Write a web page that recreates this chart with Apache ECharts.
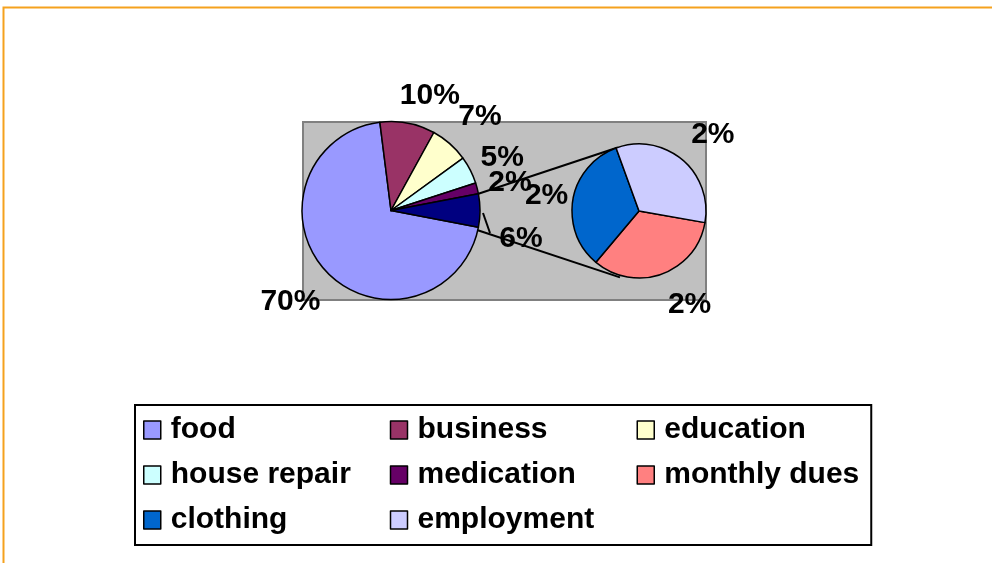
<!DOCTYPE html>
<html>
<head>
<meta charset="utf-8">
<script src="https://cdn.jsdelivr.net/npm/echarts@6/dist/echarts.min.js"></script>
<style>
  html, body { margin: 0; padding: 0; background: #fff; }
  #chart { width: 992px; height: 563px; }
</style>
</head>
<body>
<div id="chart"></div>
<script>
// main pie
const mainNames = ["food", "business", "education", "house repair", "medication"];
const mainValues = [70, 10, 7, 5, 2];
// split-off pie (the "other" slice of the main pie)
const subNames = ["monthly dues", "clothing", "employment"];
const subValues = [2, 2, 2];
const legendOrder = ["food", "business", "education", "house repair", "medication", "monthly dues", "clothing", "employment"];

const colors = {
  "food": "#9999FF",
  "business": "#993366",
  "education": "#FFFFCC",
  "house repair": "#CCFFFF",
  "medication": "#660066",
  "other": "#000080",
  "monthly dues": "#FF8080",
  "clothing": "#0066CC",
  "employment": "#CCCCFF",
};

const FONT = "'Liberation Sans', Arial, sans-serif";
const sum = (a) => a.reduce((s, v) => s + v, 0);
const otherValue = sum(subValues);
const allMain = mainValues.concat([otherValue]);
const grandTotal = sum(allMain);

// layout
const mainC = [391, 210.5], mainR = 89;
const subC = [639, 211], subR = 67;
// "other" slice centred on 3 o'clock, like excel's pie of pie
const mainStart = (grandTotal - otherValue / 2) / grandTotal * 360;
const subStart = 350;
const mainLabelR = 127, subLabelR = 104;
// small hand tweaks so the labels sit where excel put them
const labelNudge = {
  "food": [-8, 4], "business": [15, 10], "education": [5, 1], "house repair": [-2, 5],
  "medication": [-4, 4], "other": [3, 28],
  "monthly dues": [15, -4], "clothing": [10, 3], "employment": [7, 3],
};

function midAngle(values, start, i) {
  let before = 0;
  for (let k = 0; k < i; k++) before += values[k];
  return (start - (before + values[i] / 2) / sum(values) * 360) * Math.PI / 180;
}

function pt(c, r, deg) {
  const a = deg * Math.PI / 180;
  return [c[0] + r * Math.cos(a), c[1] - r * Math.sin(a)];
}

const mainData = mainNames.map((n, i) => ({ name: n, value: mainValues[i], itemStyle: { color: colors[n] } }));
mainData.push({ name: "other", value: otherValue, itemStyle: { color: colors.other } });
const subData = subNames.map((n, i) => ({ name: n, value: subValues[i], itemStyle: { color: colors[n] } }));

const labelStyle = {
  show: true,
  position: "outside",
  color: "#000",
  fontSize: 30,
  fontWeight: "bold",
  fontFamily: FONT,
  formatter: (p) => Math.round(p.value / grandTotal * 100) + "%",
};

function makeLayout(values, names, c, r, start) {
  return function (p) {
    const a = midAngle(values, start, p.dataIndex);
    const nudge = labelNudge[names[p.dataIndex]] || [0, 0];
    return {
      x: c[0] + r * Math.cos(a) + nudge[0],
      y: c[1] - r * Math.sin(a) + nudge[1],
      align: "center",
      verticalAlign: "middle",
    };
  };
}

// series lines from the "other" slice to the split-off pie
const halfOther = otherValue / grandTotal * 180;
const lineA = [pt(mainC, mainR, halfOther), pt(subC, subR, 108.5)];
const lineB = [pt(mainC, mainR, -halfOther - 2), pt(subC, subR + 2, -106)];

const chart = echarts.init(document.getElementById("chart"));
chart.setOption({
  animation: false,
  backgroundColor: "#fff",
  graphic: [
    {
      type: "polyline",
      shape: { points: [[3.5, 563], [3.5, 7.5], [992, 7.5]] },
      style: { stroke: "#F5A21E", fill: null, lineWidth: 2 },
      silent: true,
    },
    {
      type: "rect",
      shape: { x: 303, y: 122, width: 403, height: 178 },
      style: { fill: "#C0C0C0", stroke: "#808080", lineWidth: 2 },
      silent: true,
    },
    { type: "line", shape: { x1: lineA[0][0], y1: lineA[0][1], x2: lineA[1][0], y2: lineA[1][1] }, style: { stroke: "#000", lineWidth: 2 }, silent: true },
    { type: "line", shape: { x1: lineB[0][0], y1: lineB[0][1], x2: lineB[1][0], y2: lineB[1][1] }, style: { stroke: "#000", lineWidth: 2 }, silent: true },
    { type: "line", shape: { x1: 483, y1: 213, x2: 490, y2: 233 }, style: { stroke: "#000", lineWidth: 2 }, silent: true },
  ],
  legend: {
    data: legendOrder,
    left: 135,
    top: 405,
    width: 740,
    orient: "horizontal",
    padding: [10, 3, 10, 8],
    borderColor: "#000",
    borderWidth: 2,
    icon: "rect",
    itemWidth: 17,
    itemHeight: 18,
    itemGap: 15,
    selectedMode: false,
    itemStyle: { borderColor: "#000", borderWidth: 1.5 },
    textStyle: {
      color: "#000",
      fontSize: 30,
      fontWeight: "bold",
      fontFamily: FONT,
      width: 204,
      lineHeight: 30,
      padding: [0, 0, 0, 5],
    },
  },
  series: [
    {
      name: "main",
      type: "pie",
      center: mainC,
      radius: mainR,
      startAngle: mainStart,
      clockwise: true,
      avoidLabelOverlap: false,
      itemStyle: { borderColor: "#000", borderWidth: 1.5 },
      label: labelStyle,
      labelLine: { show: false },
      labelLayout: makeLayout(allMain, mainNames.concat(["other"]), mainC, mainLabelR, mainStart),
      emphasis: { disabled: true },
      data: mainData,
    },
    {
      name: "sub",
      type: "pie",
      center: subC,
      radius: subR,
      startAngle: subStart,
      clockwise: true,
      avoidLabelOverlap: false,
      itemStyle: { borderColor: "#000", borderWidth: 1.5 },
      label: labelStyle,
      labelLine: { show: false },
      labelLayout: makeLayout(subValues, subNames, subC, subLabelR, subStart),
      emphasis: { disabled: true },
      data: subData,
    },
  ],
});
</script>
</body>
</html>
